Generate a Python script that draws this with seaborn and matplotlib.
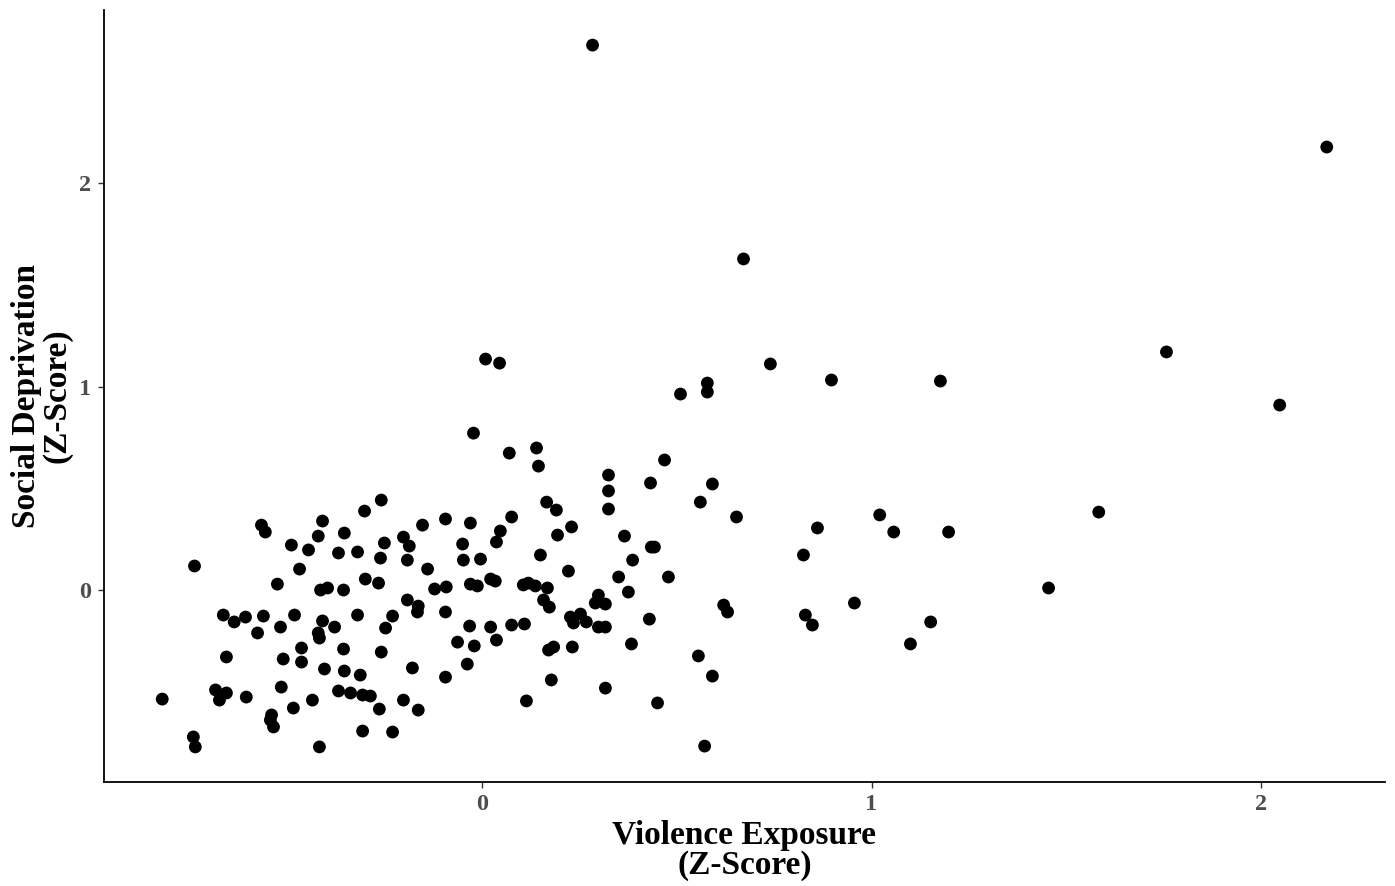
import numpy as np
import pandas as pd
import matplotlib
matplotlib.use("Agg")
import matplotlib.pyplot as plt
import seaborn as sns

violence = [
    0.283, 2.170, 0.671, 2.049, 1.584, 1.455, 1.758, 1.177, 0.897, 0.740,
    1.021, 1.057, 1.198, 0.861, 0.825, 0.830, 0.848, 0.956, 1.152, 1.100,
    0.008, 0.044, 0.509, 0.578, 0.578, -0.023, 0.069,
    0.139, 0.144, 0.324, 0.324, 0.324, 0.468, 0.432, 0.591, 0.560, 0.653,
    0.165, 0.190, 0.229, 0.193, 0.365, 0.434, 0.442, 0.149, 0.386, 0.221,
    0.350, 0.478, 0.105, 0.118, 0.136, 0.167, 0.375, 0.157, 0.172, 0.298,
    0.290, 0.316, 0.226, 0.252, 0.267, 0.234, 0.298, 0.316, 0.108, 0.429,
    0.620, 0.630, 0.170, 0.183, 0.231, 0.383, 0.555, 0.591, 0.177, 0.316,
    0.113, 0.450, 0.571,
    -0.260, -0.303, -0.355, -0.154, -0.095, -0.031, 0.075, 0.046, 0.036, -0.252,
    -0.203, -0.188, -0.370, -0.321, -0.262, -0.193, -0.051, -0.049, -0.005, -0.141,
    -0.357, -0.301, -0.267, -0.123, -0.093, -0.031, -0.013, 0.021, 0.033, -0.193,
    -0.165, -0.167, -0.095, -0.321, -0.231, -0.380, -0.249, -0.033, 0.021, 0.075,
    -0.064, -0.021, 0.036, -0.357, -0.260, -0.039, -0.180, -0.355, -0.314, -0.095,
    -0.370, -0.339, -0.308, -0.288, -0.203, -0.265, -0.165, -0.308, -0.231,
    -0.568, -0.558, -0.411, -0.422, -0.491, -0.447, -0.740, -0.470, -0.527, -0.416,
    -0.398, -0.666, -0.638, -0.609, -0.563, -0.483, -0.578, -0.519, -0.411, -0.422,
    -0.419, -0.465, -0.658, -0.512, -0.465, -0.406, -0.823, -0.686, -0.658, -0.676,
    -0.607, -0.517, -0.437, -0.486, -0.542, -0.545, -0.537, -0.743, -0.738, -0.419,
]

deprivation = [
    2.678, 2.177, 1.627, 0.909, 0.383, 0.010, 1.170, 1.027, 1.032, 1.111,
    0.369, 0.285, 0.285, 0.305, 0.172, -0.123, -0.172, -0.064, -0.157, -0.265,
    1.135, 1.115, 0.963, 1.017, 0.973, 0.771, 0.673,
    0.698, 0.609, 0.565, 0.487, 0.398, 0.639, 0.526, 0.521, 0.432, 0.359,
    0.432, 0.393, 0.310, 0.270, 0.265, 0.211, 0.211, 0.172, 0.147, 0.093,
    0.064, 0.064, 0.025, 0.034, 0.020, 0.010, -0.010, -0.049, -0.084, -0.025,
    -0.064, -0.069, -0.133, -0.118, -0.157, -0.162, -0.182, -0.182, -0.167, -0.143,
    -0.074, -0.108, -0.295, -0.280, -0.280, -0.265, -0.324, -0.423, -0.442, -0.482,
    -0.545, -0.555, -0.767,
    0.442, 0.388, 0.280, 0.319, 0.349, 0.329, 0.359, 0.290, 0.236, 0.231,
    0.260, 0.216, 0.182, 0.187, 0.157, 0.147, 0.226, 0.147, 0.152, 0.103,
    0.000, 0.054, 0.034, 0.005, 0.015, 0.029, 0.020, 0.054, 0.044, -0.049,
    -0.079, -0.108, -0.108, -0.123, -0.128, -0.182, -0.187, -0.177, -0.182, -0.172,
    -0.256, -0.275, -0.246, -0.290, -0.305, -0.364, -0.383, -0.398, -0.418, -0.428,
    -0.496, -0.506, -0.516, -0.521, -0.541, -0.585, -0.590, -0.693, -0.698,
    0.319, 0.285, 0.339, 0.265, 0.221, 0.197, 0.118, 0.103, 0.029, 0.000,
    0.010, -0.123, -0.157, -0.133, -0.128, -0.123, -0.211, -0.182, -0.152, -0.211,
    -0.236, -0.285, -0.329, -0.339, -0.354, -0.388, -0.536, -0.491, -0.506, -0.541,
    -0.526, -0.477, -0.541, -0.580, -0.614, -0.639, -0.673, -0.722, -0.771, -0.771,
]

x_ticks = [0, 1, 2]
y_ticks = [0, 1, 2]
x_label = "Violence Exposure\n(Z-Score)"
y_label = "Social Deprivation\n(Z-Score)"

df = pd.DataFrame({"violence": violence, "deprivation": deprivation})

sns.set_style("white")
plt.rcParams['font.family'] = ['Liberation Serif', 'DejaVu Serif']

fig = plt.figure(figsize=(13.95, 8.86), dpi=100)
ax = fig.add_axes([104 / 1395, 1 - 782 / 886, (1385 - 104) / 1395, (782 - 10) / 886])

sns.scatterplot(data=df, x="violence", y="deprivation", ax=ax,
                color="black", s=85, edgecolor="none", linewidth=0)

xmin, xmax = min(violence), max(violence)
ymin, ymax = min(deprivation), max(deprivation)
xr, yr = xmax - xmin, ymax - ymin
ax.set_xlim(xmin - 0.05 * xr, xmax + 0.05 * xr)
ax.set_ylim(ymin - 0.05 * yr, ymax + 0.05 * yr)

ax.set_xticks(x_ticks)
ax.set_yticks(y_ticks)
ax.set_xticklabels([str(t) for t in x_ticks])
ax.set_yticklabels([str(t) for t in y_ticks])

for s in ["top", "right"]:
    ax.spines[s].set_visible(False)
for s in ["left", "bottom"]:
    ax.spines[s].set_color("black")
    ax.spines[s].set_linewidth(1.3)

ax.tick_params(axis="both", which="major", length=4, width=1, color="#333333",
               labelsize=17.5, labelcolor="#4D4D4D", pad=5, bottom=True, left=True)
for lab in ax.get_xticklabels() + ax.get_yticklabels():
    lab.set_fontweight("bold")

ax.set_xlabel(x_label, fontsize=24, fontweight="bold", color="black",
              linespacing=0.95, labelpad=3)
ax.set_ylabel(y_label, fontsize=24, fontweight="bold", color="black",
              linespacing=0.95, labelpad=5)
ax.grid(False)

fig.savefig("out.png", dpi=100)
